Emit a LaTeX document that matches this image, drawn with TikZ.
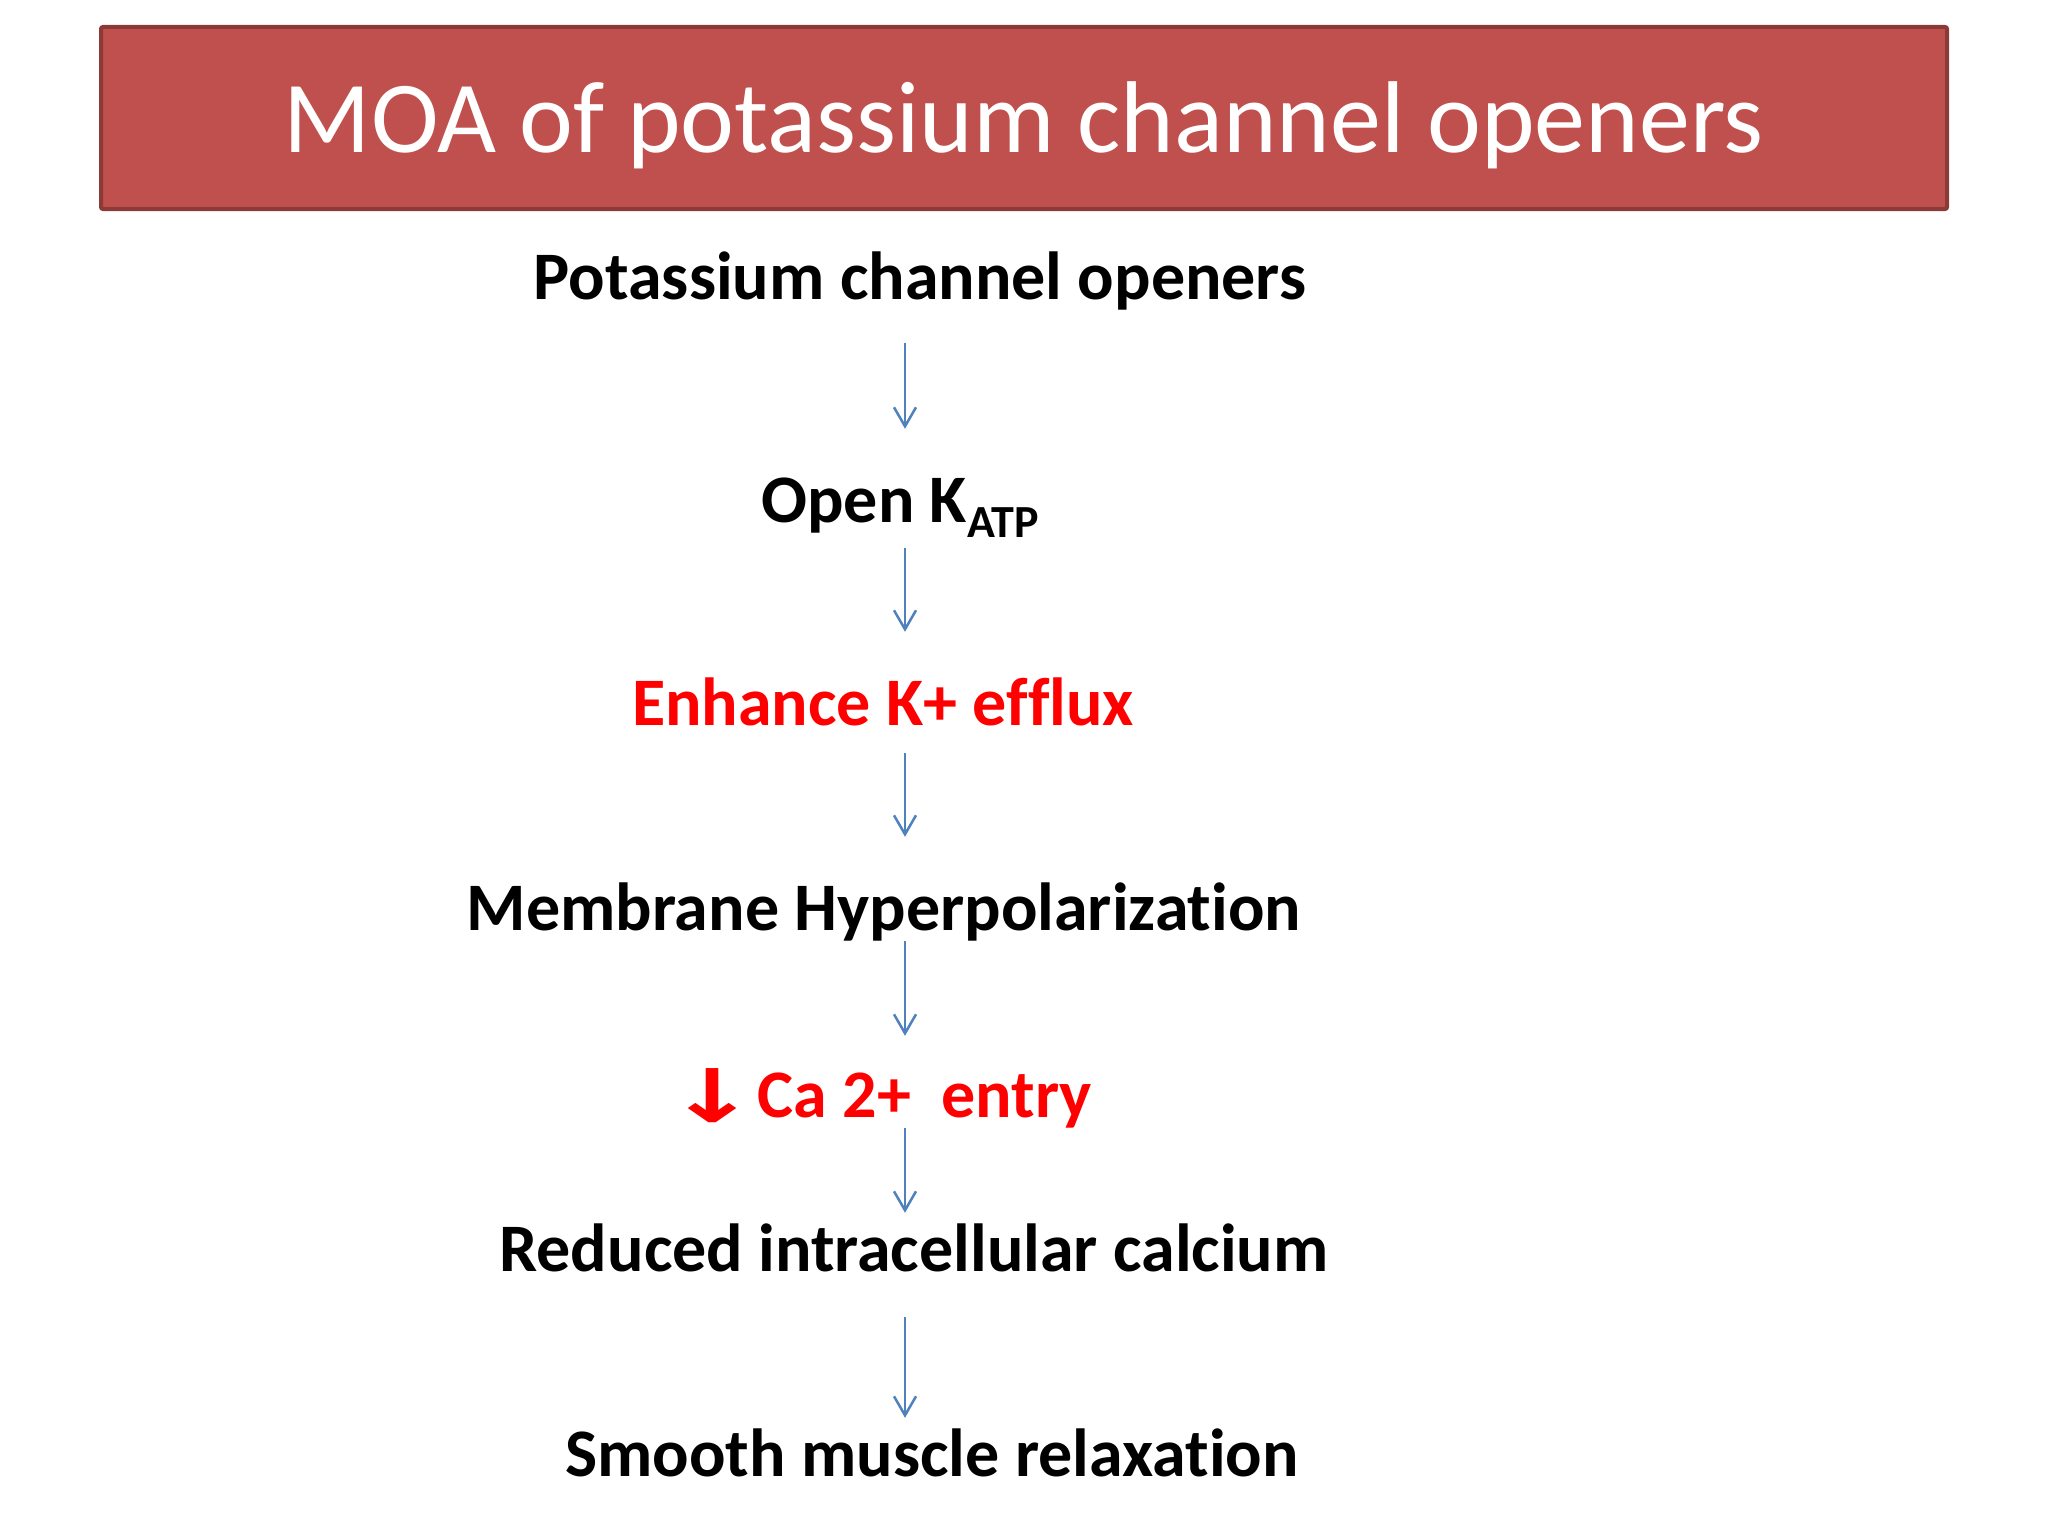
\documentclass[tikz,border=0pt]{standalone}
\usepackage{fontspec}
\setmainfont[Ligatures=NoCommon]{Carlito}
\newfontfamily\arrowfont{DejaVu Sans}
\usetikzlibrary{arrows.meta}
\definecolor{titlered}{HTML}{C0504D}
\definecolor{titleedge}{HTML}{8C3A38}
\definecolor{flowblue}{HTML}{4F81BD}
\definecolor{hotred}{HTML}{FF0000}

\begin{document}
\begin{tikzpicture}[x=1pt,y=-1pt,
    stage/.style={anchor=base, inner sep=0pt, text height=44pt, text depth=0pt,
        font=\fontsize{68}{82}\selectfont\bfseries},
    flow/.style={draw=flowblue, line width=2.5pt, -{Straight Barb[length=19pt,width=22pt]}}]

    \useasboundingbox (0,0) rectangle (2048,1536);
    \fill[white] (0,0) rectangle (2048,1536);

    \node (title) [draw=titleedge, fill=titlered, line width=4pt, rounded corners=2pt,
        minimum width=1846pt, inner sep=0pt, text height=126pt, text depth=56pt,
        text=white, font=\fontsize{102}{118}\selectfont] at (1024,118) {MOA of potassium channel openers};

    \coordinate (axis) at (905,0);

    \node (opener) [stage] at (920,299) {Potassium channel openers};
    \node (katp) [stage] at (900,522) {Open K\raisebox{-15pt}{\fontsize{46}{46}\selectfont ATP}};
    \node (efflux) [stage, text=hotred] at (883,725) {Enhance K+ efflux};
    \node (hyper) [stage] at (884,930) {Membrane Hyperpolarization};
    \node (calcium) [stage, text=hotred] at (880,1117) {\raisebox{-5pt}{\scalebox{1.45}[1]{\arrowfont\fontsize{74}{74}\selectfont ↓}}Ca 2+~~entry};
    \node (reduced) [stage] at (914,1271) {Reduced intracellular calcium};
    \node (relax) [stage] at (932,1476) {Smooth muscle relaxation};

    \foreach \a/\b/\s/\e in {opener/katp/44/49, katp/efflux/26/49, efflux/hyper/28/49,
        hyper/calcium/11/37, calcium/reduced/11/14, reduced/relax/46/14}
    \draw[flow, shorten <=\s pt, shorten >=\e pt] (\a.south -| axis) -- (\b.north -| axis);

\end{tikzpicture}
\end{document}
